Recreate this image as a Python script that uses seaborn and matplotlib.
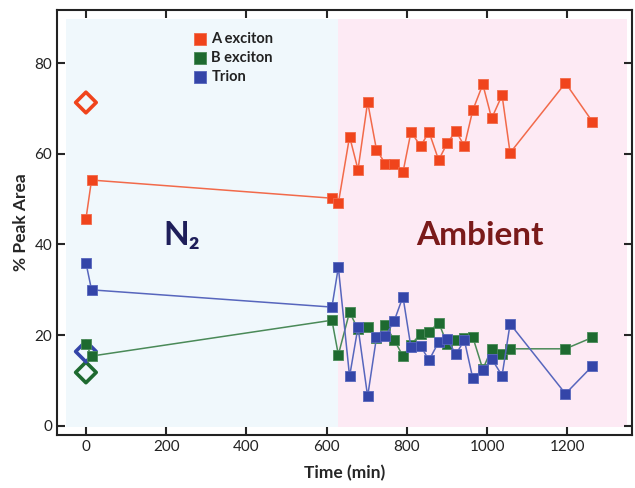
import numpy as np
import pandas as pd
import matplotlib
matplotlib.use("Agg")
import matplotlib.pyplot as plt
import seaborn as sns

# time points (min) shared by all three species
time_min = [0, 14, 613, 629, 657, 678, 702, 724, 746, 768, 790, 810, 834,
            855, 879, 900, 922, 943, 964, 989, 1011, 1037, 1057, 1195, 1262]

a_exciton = [45.6, 54.2, 50.2, 49.1, 63.8, 56.5, 71.4, 60.9, 57.8, 57.8, 55.9,
             64.8, 61.7, 64.8, 58.6, 62.3, 65.0, 61.7, 69.6, 75.3, 67.8, 72.9,
             60.2, 75.6, 67.1]
b_exciton = [18.1, 15.4, 23.3, 15.7, 25.1, 21.3, 21.7, 19.3, 22.2, 19.0, 15.4,
             17.9, 20.3, 20.7, 22.8, 18.1, 19.0, 19.3, 19.6, 12.5, 17.0, 15.8,
             17.0, 17.0, 19.5]
trion = [36.0, 30.0, 26.2, 35.0, 10.9, 21.8, 6.5, 19.5, 19.8, 23.1, 28.5,
         17.3, 17.6, 14.5, 18.5, 19.1, 15.8, 18.9, 10.5, 12.3, 14.8, 11.1,
         22.5, 7.1, 13.2]

# open diamonds at t = 0
ref_time = [0, 0, 0]
ref_area = [71.3, 11.8, 16.4]

species = ["A exciton", "B exciton", "Trion"]
colors = {"A exciton": "#f0441c", "B exciton": "#1e6a30", "Trion": "#3445a8"}
line_colors = {"A exciton": "#f26a4a", "B exciton": "#4a8a58", "Trion": "#5766bd"}

df = pd.DataFrame({
    "time": time_min * 3,
    "area": a_exciton + b_exciton + trion,
    "species": np.repeat(species, len(time_min)),
})
ref = pd.DataFrame({"time": ref_time, "area": ref_area, "species": species})

sns.set_style("ticks")
plt.rcParams["font.family"] = ["Lato", "DejaVu Sans"]

fig = plt.figure(figsize=(6.35, 4.88), dpi=100)
ax = fig.add_axes([0.0898, 0.1086, 0.905, 0.871])

# background regions
ax.fill_between([-50, 628], -0.2, 89.7, color="#f0f8fc", lw=0, zorder=0)
ax.fill_between([628, 1349], -0.2, 89.7, color="#fdeaf4", lw=0, zorder=0)

# open diamonds (reference measurement)
for sp in species:
    n0 = len(ax.collections)
    sns.scatterplot(data=ref[ref["species"] == sp], x="time", y="area",
                    marker="D", s=110, linewidth=2.6, legend=False, ax=ax,
                    zorder=2)
    coll = ax.collections[n0]
    coll.set_facecolor("none")
    coll.set_edgecolor(colors[sp])

for k, sp in enumerate(species):
    sub = df[df["species"] == sp]
    sns.lineplot(data=sub, x="time", y="area", color=line_colors[sp],
                 lw=1.1, sort=False, estimator=None, ax=ax, zorder=3 + 2 * k)
    sns.scatterplot(data=sub, x="time", y="area", color=colors[sp], marker="s",
                    s=52, edgecolor=line_colors[sp], linewidth=0.6,
                    label=sp, ax=ax, zorder=4 + 2 * k)

ax.set_xlim(-72, 1360)
ax.set_ylim(-2.0, 91.7)
ax.set_xticks([0, 200, 400, 600, 800, 1000, 1200])
ax.set_yticks([0, 20, 40, 60, 80])
ax.tick_params(direction="in", length=6, width=1.5, labelsize=11,
               top=True, right=True, labelcolor="#222222")
for s in ax.spines.values():
    s.set_linewidth(1.5)
    s.set_color("#222222")

ax.set_xlabel("Time (min)", fontsize=12.5, fontweight="bold", labelpad=8)
ax.set_ylabel("% Peak Area", fontsize=12.5, fontweight="bold", labelpad=4)

ax.text(239, 42, "N₂", fontsize=24, fontweight="bold", color="#1f1f5a",
        ha="center", va="center", zorder=10)
ax.text(983, 42, "Ambient", fontsize=24, fontweight="bold", color="#7a1a1a",
        ha="center", va="center", zorder=10)

leg = ax.legend(loc="upper left", bbox_to_anchor=(0.224, 0.963), frameon=False,
                prop={"size": 10.5, "weight": "bold"}, handletextpad=0.15,
                labelspacing=0.35, borderaxespad=0, handlelength=1.2,
                markerscale=1.1)
for t in leg.get_texts():
    t.set_color("#222222")

fig.savefig("out.png", dpi=100)
